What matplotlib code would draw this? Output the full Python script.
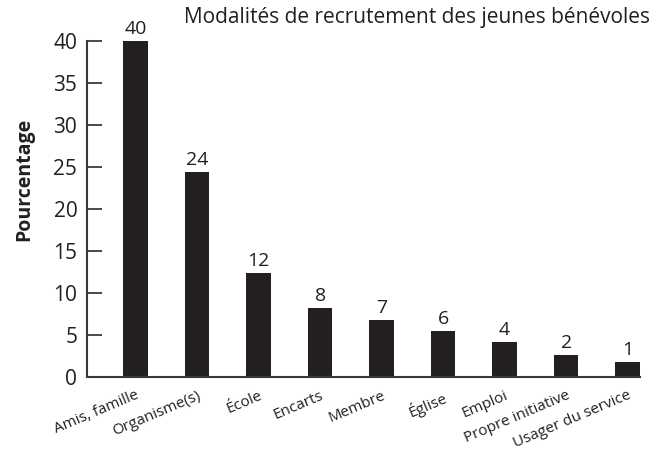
import matplotlib
matplotlib.use("Agg")
import matplotlib.pyplot as plt

categories = ["Amis, famille", "Organisme(s)", "École", "Encarts", "Membre",
              "Église", "Emploi", "Propre initiative", "Usager du service"]
heights = [40.0, 24.4, 12.4, 8.2, 6.8, 5.5, 4.2, 2.6, 1.8]
labels = ["40", "24", "12", "8", "7", "6", "4", "2", "1"]
yticks = [0, 5, 10, 15, 20, 25, 30, 35, 40]
title = "Modalités de recrutement des jeunes bénévoles"
ylabel = "Pourcentage"

plt.rcParams["font.family"] = ["Open Sans", "DejaVu Sans"]
ink = "#231f20"

fig = plt.figure(figsize=(6.56, 4.51), dpi=100)
ax = fig.add_axes([87/656, 74/451, (640-87)/656, (377-41)/451])

x = list(range(len(categories)))
ax.bar(x, heights, width=0.4, color=ink, edgecolor=ink, linewidth=0)
for xi, h, lab in zip(x, heights, labels):
    ax.text(xi, h + 0.35, lab, ha="center", va="bottom", fontsize=14, color=ink, clip_on=False)

ax.set_xlim(-0.79, 8.2)
ax.set_ylim(0, 40)
ax.set_yticks(yticks)
ax.set_yticklabels([str(t) for t in yticks], fontsize=15, color=ink)
ax.tick_params(axis="y", direction="in", length=11, width=1.3, color="#3a3a3a", pad=7)
ax.set_xticks(x)
ax.set_xticklabels(categories, rotation=23, ha="right", rotation_mode="anchor", fontsize=11, color=ink)
ax.tick_params(axis="x", length=0, pad=8)

for s in ["top", "right"]:
    ax.spines[s].set_visible(False)
for s in ["left", "bottom"]:
    ax.spines[s].set_linewidth(1.5)
    ax.spines[s].set_color("#3a3a3a")

fig.text(24/656, 1 - 179/451, ylabel, rotation=90, ha="center", va="center",
         fontsize=14, fontweight="bold", color=ink)
fig.text(650/656, 1 - 18/451, title, ha="right", va="center", fontsize=15, color=ink)

fig.savefig("out.png", dpi=100)
